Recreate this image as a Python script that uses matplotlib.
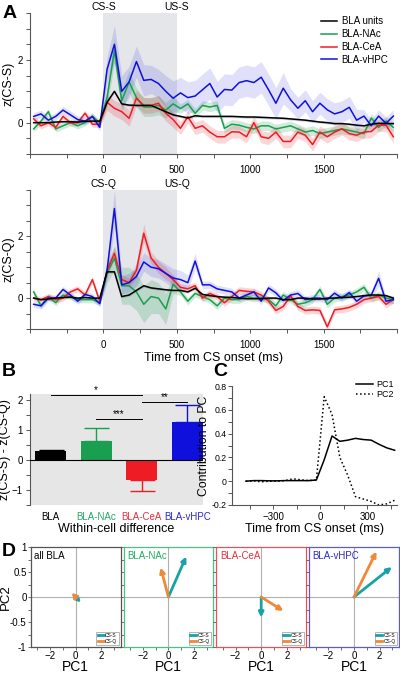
import numpy as np
import matplotlib
matplotlib.use("Agg")
import matplotlib.pyplot as plt
from matplotlib.lines import Line2D
from matplotlib.ticker import MultipleLocator

plt.rcParams['font.family'] = ['Liberation Sans', 'DejaVu Sans']

# ---------------- data ----------------
# panel A: 50 ms bins, bin centres -475 .. 1975 ms
t_bins = np.arange(-475, 2000, 50)

black_S = [0.0, 0.0, 0.0, 0.02, 0.03, 0.03, 0.02, 0.04, 0.05, 0.05,
           0.65, 1.0, 0.6, 0.56, 0.55, 0.55, 0.55, 0.45, 0.35, 0.25,
           0.2, 0.15, 0.22, 0.2, 0.2, 0.2, 0.2, 0.2, 0.19, 0.18,
           0.18, 0.17, 0.16, 0.15, 0.14, 0.12, 0.1, 0.08, 0.05, 0.02,
           0.0, -0.03, -0.03, -0.05, -0.08, -0.1, -0.05, -0.02, -0.03, -0.03]
green_S = [-0.2, 0.05, 0.35, -0.2, -0.1, 0.0, -0.1, 0.0, 0.2, 0.0,
           0.8, 2.3, 0.7, 1.3, 0.8, 0.5, 0.5, 0.55, 0.4, 0.6,
           0.45, 0.6, 0.3, 0.55, 0.5, 0.55, -0.18, -0.05, -0.08, -0.15,
           -0.2, -0.1, -0.1, -0.2, -0.15, -0.1, -0.2, -0.3, -0.25, -0.35,
           -0.3, -0.25, -0.2, -0.25, -0.3, -0.35, 0.15, -0.15, 0.05, -0.15]
red_S = [0.12, -0.1, 0.0, -0.15, 0.2, 0.0, 0.0, 0.3, -0.05, -0.05,
         0.65, 0.46, 0.35, 0.14, 0.78, 0.55, 0.55, 0.62, 0.3, 0.1,
         -0.18, 0.19, -0.18, -0.1, -0.3, -0.45, -0.45, -0.29, -0.3, -0.45,
         0.0, -0.45, -0.5, -0.3, -0.6, -0.6, -0.3, -0.4, -0.7, -0.3,
         -0.45, -0.3, -0.2, -0.35, -0.4, -0.3, -0.28, -0.08, -0.08, -0.45]
blue_S = [0.2, 0.28, 0.08, 0.2, 0.4, 0.25, 0.1, 0.05, 0.2, -0.15,
          1.7, 2.5, 1.0, 1.3, 1.95, 1.35, 1.38, 1.25, 1.0, 0.78,
          0.95, 0.8, 0.85, 1.05, 1.25, 0.82, 1.06, 1.04, 1.28, 1.34,
          1.28, 1.45, 1.05, 0.62, 1.1, 0.73, 0.46, 0.7, 0.35, 0.62,
          0.41, 0.28, 0.35, 0.49, 0.08, 0.21, -0.1, 0.21, -0.02, 0.21]

black_S_sem = [0.04] * 50
green_S_sem = [0.1] * 10 + [0.3, 0.4, 0.35, 0.35, 0.3, 0.3, 0.3, 0.3, 0.25, 0.25] + [0.15] * 30
red_S_sem = [0.1] * 10 + [0.25] * 10 + [0.2] * 30
blue_S_sem = [0.12] * 10 + [0.4, 0.6, 0.5, 0.5, 0.5, 0.5, 0.45, 0.45, 0.5, 0.55] + [0.5] * 15 + [0.35] * 10 + [0.2] * 5

black_Q = [0.0, -0.05, -0.03, 0.0, 0.02, 0.03, 0.0, 0.02, 0.0, 0.0,
           0.85, 0.85, 0.05, 0.1, 0.25, 0.4, 0.33, 0.3, 0.27, 0.25,
           0.25, 0.2, 0.32, 0.12, 0.08, 0.05, 0.03, 0.02, 0.0, -0.02,
           -0.02, -0.02, 0.0, 0.0, -0.05, -0.05, 0.0, 0.0, -0.03, -0.03,
           0.0, 0.0, 0.02, 0.03, 0.05, 0.08, 0.1, 0.1, 0.08, 0.0]
green_Q = [0.2, -0.25, 0.05, -0.15, 0.1, 0.05, -0.05, -0.05, -0.05, -0.15,
           0.8, 1.3, 0.4, 0.4, 0.2, -0.2, 0.05, 0.0, -0.35, 0.45,
           0.2, -0.1, 0.15, 0.05, -0.05, -0.25, 0.0, -0.05, -0.05, 0.05,
           0.0, 0.02, -0.05, -0.25, 0.1, -0.05, -0.2, -0.15, -0.05, 0.28,
           -0.2, 0.0, 0.05, 0.1, 0.2, 0.35, 0.0, 0.1, 0.0, -0.05]
red_Q = [0.0, -0.05, 0.05, -0.05, 0.0, 0.2, 0.3, 0.1, 0.6, -0.1,
         0.9, 1.45, 0.6, 0.5, 0.9, 2.1, 1.3, 1.0, 0.8, 0.6,
         0.35, 0.3, 0.4, 0.0, 0.15, 0.05, -0.15, 0.05, 0.25, 0.22,
         0.2, 0.1, -0.1, -0.4, -0.27, 0.07, -0.27, -0.4, -0.38, -0.4,
         -0.93, -0.38, -0.35, -0.3, -0.2, -0.05, 0.0, 0.05, -0.2, -0.05]
blue_Q = [-0.2, -0.25, 0.0, 0.0, 0.28, 0.1, -0.1, 0.12, 0.05, -0.18,
          0.9, 2.9, 0.43, 0.5, 0.7, 1.17, 1.0, 0.95, 0.8, 0.65,
          0.6, 0.5, 1.2, 0.43, 0.43, 0.3, 0.25, 0.2, 0.0, 0.1,
          0.2, -0.1, 0.33, 0.17, -0.08, 0.1, 0.15, -0.05, 0.0, 0.0,
          -0.05, 0.16, 0.0, 0.18, -0.1, 0.07, 0.1, 0.64, -0.1, -0.05]

black_Q_sem = [0.04] * 50
green_Q_sem = [0.1] * 10 + [0.3, 0.4, 0.6, 0.6, 0.6, 0.6, 0.55, 0.5, 0.5, 0.3] + [0.12] * 30
red_Q_sem = [0.1] * 10 + [0.2, 0.2, 0.15, 0.15, 0.25, 0.3, 0.2, 0.2, 0.2, 0.15] + [0.12] * 30
blue_Q_sem = [0.1] * 10 + [0.3, 0.6] + [0.3] * 9 + [0.25, 0.25] + [0.12] * 24 + [0.25, 0.12, 0.12]

series_names = ['BLA units', 'BLA-NAc', 'BLA-CeA', 'BLA-vHPC']

# panel B: within-cell difference
groups = ['BLA', 'BLA-NAc', 'BLA-CeA', 'BLA-vHPC']
diff_mean = [0.3, 0.63, -0.68, 1.27]
diff_err = [0.03, 0.43, 0.35, 0.55]
sig_pairs = [(0, 2, '*', 2.17), (1, 2, '***', 1.38), (2, 3, '**', 1.92)]

# panel C: PC loadings
t_pc = np.arange(-475, 500, 50)
pc1 = [0.0, 0.005, 0.005, 0.003, 0.003, 0.005, 0.005, 0.005, 0.005, 0.01,
       0.18, 0.38, 0.335, 0.345, 0.36, 0.35, 0.345, 0.31, 0.28, 0.26]
pc2 = [0.0, 0.003, -0.005, 0.0, 0.0, 0.005, 0.02, 0.012, 0.005, 0.01,
       0.71, 0.56, 0.2, 0.05, -0.13, -0.15, -0.17, -0.2, -0.19, -0.16]

# panel D: projections (PC1, PC2) of CS-S and CS-Q
d_titles = ['all BLA', 'BLA-NAc', 'BLA-CeA', 'BLA-vHPC']
cs_s_vec = [(0.42, -0.11), (1.39, 0.81), (0.0, -0.41), (2.95, 0.6)]
cs_q_vec = [(-0.31, 0.09), (-0.6, 0.59), (1.73, -0.28), (1.75, 0.91)]

# ---------------- style ----------------
c_bla, c_nac, c_cea, c_vhpc = 'black', '#1a9e4f', '#ee1c24', '#1010dd'
line_colors = [c_bla, c_nac, c_cea, c_vhpc]
band_alpha = [0.15, 0.2, 0.18, 0.13]
title_colors = ['black', '#22aa66', '#e83040', '#2a2acc']
frame_colors = ['#555555', '#4cc08a', '#e8505a', '#5a5ae0']
teal, orange = '#17a2a8', '#f0883a'
axis_grey = '#555555'

W, H = 400, 676
fig = plt.figure(figsize=(W / 100, H / 100), dpi=100)


def px_axes(l, t, r, b):
    return fig.add_axes([l / W, 1 - b / H, (r - l) / W, (b - t) / H])


def style_spines(ax, which=('left', 'bottom')):
    for s in ax.spines:
        ax.spines[s].set_visible(s in which)
        ax.spines[s].set_color(axis_grey)
        ax.spines[s].set_linewidth(0.8)
    ax.tick_params(which='both', direction='out', length=3, width=0.7,
                   color=axis_grey, labelsize=7, pad=2)


# ---------------- panel A ----------------
def trace_panel(ax, means, sems, cs_lbl, us_lbl, ylabel):
    ax.axvspan(0, 500, color='#e4e6e9', lw=0, zorder=0)
    for m, s, col, a in zip(means, sems, line_colors, band_alpha):
        m = np.array(m)
        s = np.array(s)
        ax.fill_between(t_bins, m - s, m + s, color=col, alpha=a, lw=0, zorder=1)
    order = [1, 2, 3, 0]
    for i in order:
        ax.plot(t_bins, means[i], color=line_colors[i], lw=1.1, zorder=2,
                label=series_names[i])
    ax.set_xlim(-500, 2000)
    ax.set_ylim(-1, 3.5)
    ax.set_xticks([0, 500, 1000, 1500])
    ax.xaxis.set_minor_locator(MultipleLocator(250))
    ax.set_yticks([0, 2])
    ax.yaxis.set_minor_locator(MultipleLocator(0.5))
    style_spines(ax)
    ax.tick_params(axis='x', pad=5)
    ax.set_ylabel(ylabel, fontsize=9, labelpad=2)
    for xv, lbl in ((0, cs_lbl), (500, us_lbl)):
        ax.annotate(lbl, xy=(xv, 1), xycoords=('data', 'axes fraction'),
                    xytext=(0, 4), textcoords='offset points',
                    ha='center', va='center', fontsize=7.5)


axA1 = px_axes(30, 13, 397, 154)
trace_panel(axA1, [black_S, green_S, red_S, blue_S],
            [black_S_sem, green_S_sem, red_S_sem, blue_S_sem],
            'CS-S', 'US-S', 'z(CS-S)')
h, l = axA1.get_legend_handles_labels()
idx = [l.index(n) for n in series_names]
axA1.legend([h[i] for i in idx], [l[i] for i in idx], loc='upper right',
            bbox_to_anchor=(1.0, 1.04), frameon=False, fontsize=7,
            handlelength=1.6, labelspacing=0.3, handletextpad=0.5)

axA2 = px_axes(30, 190, 397, 329)
trace_panel(axA2, [black_Q, green_Q, red_Q, blue_Q],
            [black_Q_sem, green_Q_sem, red_Q_sem, blue_Q_sem],
            'CS-Q', 'US-Q', 'z(CS-Q)')
axA2.set_xlabel('Time from CS onset (ms)', fontsize=9, labelpad=1)

# ---------------- panel B ----------------
axB = px_axes(30, 394, 203, 505)
axB.set_facecolor('#e6e6e6')
xb = np.arange(len(groups))
axB.bar(xb, diff_mean, width=0.68, color=line_colors, zorder=2)
for x, m, e, col in zip(xb, diff_mean, diff_err, line_colors):
    yerr = [[0], [e]] if m >= 0 else [[e], [0]]
    axB.errorbar(x, m, yerr=yerr, color=col, capsize=9, lw=1, capthick=1, zorder=2)
axB.axhline(0, color='black', lw=0.8, zorder=3)
for a, b, star, y in sig_pairs:
    axB.plot([a, b], [y, y], color='black', lw=0.7)
    axB.text((a + b) / 2, y, star, ha='center', va='bottom', fontsize=7)
axB.set_xlim(-0.45, 3.34)
axB.set_ylim(-1.5, 2.2)
axB.set_yticks([-1, 0, 1, 2])
axB.yaxis.set_minor_locator(MultipleLocator(0.5))
style_spines(axB, which=('left',))
axB.set_xticks(xb)
axB.set_xticklabels(groups, fontsize=7)
for lab, col in zip(axB.get_xticklabels(), title_colors):
    lab.set_color(col)
axB.tick_params(axis='x', length=0, pad=5)
axB.set_ylabel('z(CS-S) - z(CS-Q)', fontsize=9, labelpad=1)
axB.set_xlabel('Within-cell difference', fontsize=9, labelpad=1)

# ---------------- panel C ----------------
axC = px_axes(232, 386, 397, 505)
axC.plot(t_pc, pc1, color='black', lw=1.1, label='PC1')
axC.plot(t_pc, pc2, color='black', lw=1.1, ls=':', label='PC2')
axC.set_xlim(-564, 490)
axC.set_ylim(-0.2, 0.8)
axC.set_xticks([-300, 0, 300])
axC.xaxis.set_minor_locator(MultipleLocator(150))
axC.set_yticks([-0.2, 0, 0.2, 0.4, 0.6, 0.8])
axC.set_yticklabels(['-0.2', '0', '0.2', '0.4', '0.6', '0.8'])
axC.yaxis.set_minor_locator(MultipleLocator(0.1))
style_spines(axC)
axC.tick_params(axis='y', labelsize=6.3, pad=1)
axC.set_ylabel('Contribution to PC', fontsize=8.8, labelpad=1)
axC.set_xlabel('Time from CS onset (ms)', fontsize=9, labelpad=1)
axC.legend(loc='upper right', bbox_to_anchor=(1.03, 1.12), frameon=False,
           fontsize=6.5, handlelength=1.8, labelspacing=0.15, handletextpad=0.4)

# ---------------- panel D ----------------
d_w, d_gap = 89.8, 3
for i in range(4):
    left = 30.7 + i * (d_w + d_gap)
    ax = px_axes(left, 547, left + d_w, 647)
    ax.axhline(0, color='#b0b0b0', lw=0.8, zorder=0)
    ax.axvline(0, color='#b0b0b0', lw=0.8, zorder=0)
    for vec, col in ((cs_s_vec[i], teal), (cs_q_vec[i], orange)):
        ax.annotate('', xy=vec, xytext=(0, 0),
                    arrowprops=dict(arrowstyle='-|>', color=col, lw=2,
                                    mutation_scale=7, shrinkA=0, shrinkB=0))
    ax.set_xlim(-3.5, 3.5)
    ax.set_ylim(-1, 1)
    ax.set_xticks([-2, 0, 2])
    ax.xaxis.set_minor_locator(MultipleLocator(1))
    ax.set_yticks([-1, -0.5, 0, 0.5, 1])
    ax.yaxis.set_minor_locator(MultipleLocator(0.25))
    for s in ax.spines.values():
        s.set_color(frame_colors[i])
        s.set_linewidth(0.9)
    ax.tick_params(which='both', direction='out', length=2, width=0.6,
                   color=axis_grey, labelsize=7, pad=1)
    if i == 0:
        ax.set_yticklabels(['-1', '-0.5', '0', '0.5', '1'])
        ax.set_ylabel('PC2', fontsize=9.5)
        ax.yaxis.set_label_coords(-0.21, 0.5)
    else:
        ax.set_yticklabels([])
    ax.set_xlabel('PC1', fontsize=10, labelpad=-1)
    ax.text(0.04, 0.96, d_titles[i], transform=ax.transAxes, ha='left', va='top',
            fontsize=7, color=title_colors[i])
    leg = ax.legend(handles=[Line2D([], [], color=teal, lw=2, label='CS-S'),
                             Line2D([], [], color=orange, lw=2, label='CS-Q')],
                    loc='lower right', fontsize=3.5, handlelength=1.2,
                    borderpad=0.3, labelspacing=0.1, handletextpad=0.3,
                    fancybox=False, edgecolor='#999999', framealpha=1,
                    borderaxespad=0.4)
    leg.get_frame().set_linewidth(0.5)

# ---------------- panel letters ----------------
for letter, x, y in (('A', 3, 14), ('B', 2, 371), ('C', 213, 371), ('D', 2, 551)):
    fig.text(x / W, 1 - y / H, letter, fontsize=14, weight='bold',
             ha='left', va='center')

fig.savefig('out.png', dpi=100)
